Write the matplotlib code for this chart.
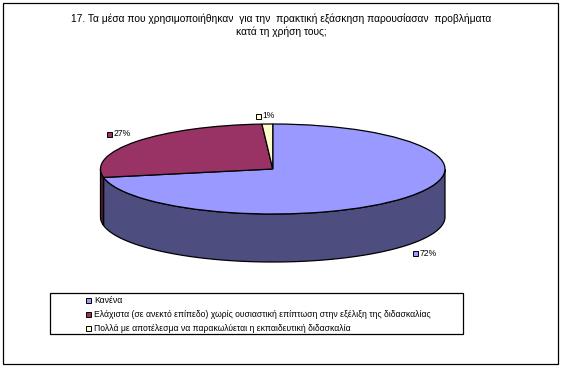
import matplotlib
matplotlib.use('Agg')
import matplotlib.pyplot as plt
import numpy as np
from matplotlib.lines import Line2D
from matplotlib.patches import Rectangle

plt.rcParams['font.family'] = ['Liberation Sans', 'DejaVu Sans']

title = ("17. Τα μέσα που χρησιμοποιήθηκαν  για την  πρακτική εξάσκηση παρουσίασαν  προβλήματα\n"
         "κατά τη χρήση τους;")
categories = ["Κανένα",
              "Ελάχιστα (σε ανεκτό επίπεδο) χωρίς ουσιαστική επίπτωση στην εξέλιξη της διδασκαλίας",
              "Πολλά με αποτέλεσμα να παρακωλύεται η εκπαιδευτική διδασκαλία"]
values = [72, 27, 1]
colors = ['#9999FF', '#993366', '#FFFFCC']
side_colors = ['#4D4D80', '#4D1A33', '#808066']

W, H = 563, 368
fig = plt.figure(figsize=(W / 100, H / 100), dpi=100)

# whole figure in pixels, for the frame, the labels and the legend box
bg = fig.add_axes([0, 0, 1, 1])
bg.set_xlim(0, W)
bg.set_ylim(H, 0)
bg.axis('off')
bg.add_patch(Rectangle((2.7, 2.7), 555, 361, fill=False, edgecolor='black', linewidth=0.9))
bg.text(281, 25, title, ha='center', va='center', fontsize=7.4, linespacing=1.3, color='black')

# pie axes: -1..1 is the top ellipse
left, right, top, bottom = 100.5, 445, 124, 214
ax = fig.add_axes([left / W, 1 - bottom / H, (right - left) / W, (bottom - top) / H])
depth = 48 / ((bottom - top) / 2)

# side wall of the pie, only the front half shows
bounds = 90 - 360 * np.concatenate([[0], np.cumsum(values)]) / sum(values)
for i in range(len(values)):
    lo = max(bounds[i + 1] + 360, 180)
    hi = min(bounds[i] + 360, 360)
    if hi <= lo:
        continue
    t = np.radians(np.linspace(lo, hi, 100))
    xs = np.concatenate([np.cos(t), np.cos(t[::-1])])
    ys = np.concatenate([np.sin(t), np.sin(t[::-1]) - depth])
    ax.fill(xs, ys, facecolor=side_colors[i], edgecolor='black', linewidth=0.9, zorder=0, clip_on=False)

ax.pie(values, colors=colors, startangle=90, counterclock=False, radius=1,
       wedgeprops=dict(edgecolor='black', linewidth=0.9, clip_on=False))
ax.set_aspect('auto')
ax.set_xlim(-1, 1)
ax.set_ylim(-1, 1)
ax.patch.set_alpha(0)

# data labels with their small keys
label_pos = [(415, 253), (109, 134), (258, 116)]
for v, c, (x, y) in zip(values, colors, label_pos):
    bg.plot(x, y, marker='s', ms=3.6, mfc=c, mec='black', mew=0.7, zorder=5)
    bg.text(x + 4.5, y, f"{v}%", ha='left', va='center', fontsize=6.2, zorder=5)

# legend
bg.add_patch(Rectangle((49.8, 292.8), 413, 41, facecolor='white', edgecolor='black', linewidth=0.9))
handles = [Line2D([], [], linestyle='none', marker='s', ms=3.6, mfc=c, mec='black', mew=0.7) for c in colors]
bg.legend(handles, categories, loc='upper left', bbox_to_anchor=(82 / W, 1 - 293.5 / H), frameon=False,
          fontsize=6.2, handlelength=0.8, handletextpad=0.3, labelspacing=0.57, borderpad=0.3, borderaxespad=0)
bg.set_zorder(1)
ax.set_zorder(0)

fig.savefig('out.png', dpi=100, facecolor='white')
